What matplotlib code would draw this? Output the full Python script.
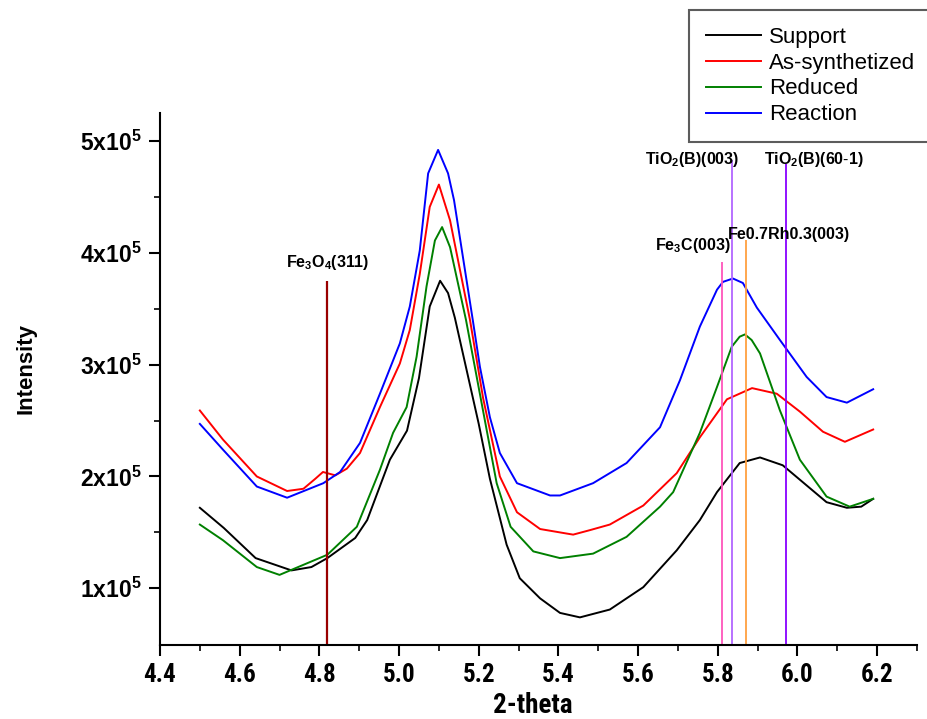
import numpy as np
import matplotlib
matplotlib.use('Agg')
import matplotlib.pyplot as plt
from matplotlib import font_manager
from matplotlib.ticker import MultipleLocator, FixedLocator

# intensities in units of 1e5
x_support = [4.50, 4.56, 4.64, 4.73, 4.78, 4.82, 4.89, 4.92, 4.977, 5.02, 5.05, 5.077, 5.103,
             5.123, 5.14, 5.20, 5.228, 5.27, 5.303, 5.354, 5.404, 5.454, 5.529, 5.613, 5.697,
             5.755, 5.798, 5.855, 5.906, 5.963, 6.023, 6.073, 6.124, 6.16, 6.19]
y_support = [1.72, 1.54, 1.27, 1.16, 1.19, 1.27, 1.45, 1.61, 2.15, 2.41, 2.88, 3.52, 3.75,
             3.64, 3.42, 2.47, 1.98, 1.39, 1.09, 0.91, 0.78, 0.74, 0.81, 1.01, 1.34,
             1.61, 1.86, 2.12, 2.17, 2.10, 1.92, 1.77, 1.72, 1.73, 1.80]

x_synth = [4.50, 4.558, 4.643, 4.719, 4.76, 4.79, 4.809, 4.84, 4.869, 4.902, 4.952, 5.002,
           5.027, 5.052, 5.077, 5.10, 5.128, 5.178, 5.211, 5.253, 5.296, 5.354, 5.42, 5.437,
           5.479, 5.529, 5.613, 5.697, 5.755, 5.823, 5.886, 5.948, 6.006, 6.064, 6.119, 6.19]
y_synth = [2.59, 2.33, 2.00, 1.87, 1.89, 1.98, 2.04, 2.01, 2.07, 2.21, 2.62, 3.01,
           3.31, 3.81, 4.41, 4.61, 4.29, 3.40, 2.70, 2.00, 1.68, 1.53, 1.49, 1.48,
           1.52, 1.57, 1.74, 2.03, 2.35, 2.69, 2.79, 2.74, 2.58, 2.40, 2.31, 2.42]

x_reduced = [4.50, 4.558, 4.643, 4.70, 4.82, 4.894, 4.952, 4.985, 5.019, 5.044, 5.069, 5.09,
             5.108, 5.128, 5.168, 5.245, 5.28, 5.337, 5.404, 5.487, 5.571, 5.655, 5.688,
             5.755, 5.798, 5.835, 5.855, 5.868, 5.885, 5.906, 5.956, 6.006, 6.073, 6.131, 6.19]
y_reduced = [1.57, 1.43, 1.19, 1.12, 1.30, 1.55, 2.06, 2.39, 2.62, 3.07, 3.70, 4.11,
             4.23, 4.05, 3.40, 1.94, 1.55, 1.33, 1.27, 1.31, 1.46, 1.73, 1.86,
             2.39, 2.80, 3.16, 3.25, 3.27, 3.22, 3.10, 2.59, 2.15, 1.82, 1.73, 1.80]

x_reaction = [4.50, 4.558, 4.643, 4.719, 4.81, 4.852, 4.902, 4.952, 5.002, 5.027, 5.052, 5.073,
              5.098, 5.123, 5.138, 5.185, 5.203, 5.228, 5.253, 5.296, 5.379, 5.404, 5.487,
              5.571, 5.655, 5.705, 5.755, 5.798, 5.813, 5.838, 5.863, 5.898, 5.956, 6.023,
              6.073, 6.124, 6.19]
y_reaction = [2.47, 2.24, 1.91, 1.81, 1.94, 2.04, 2.30, 2.74, 3.19, 3.52, 4.02, 4.71,
              4.92, 4.71, 4.47, 3.40, 2.98, 2.53, 2.21, 1.94, 1.83, 1.83, 1.94,
              2.12, 2.44, 2.86, 3.34, 3.67, 3.74, 3.77, 3.73, 3.51, 3.22, 2.89,
              2.71, 2.66, 2.78]

series_names = ['Support', 'As-synthetized', 'Reduced', 'Reaction']
series_colors = ['black', '#FF0000', '#008000', '#0000FF']

# reference peaks: position, top of marker (1e5), colour
ref_pos = [4.82, 5.81, 5.835, 5.87, 5.97]
ref_top = [3.75, 3.92, 4.83, 4.11, 4.79]
ref_colors = ['#990000', '#FF55BB', '#B266FF', '#FFA040', '#8800FF']

# narrow font for the x axis if one is installed
names = {f.name for f in font_manager.fontManager.ttflist}
narrow = None
for cand in ['Liberation Sans Narrow', 'Arial Narrow', 'Roboto Condensed', 'Open Sans Condensed']:
    if cand in names:
        narrow = cand
        break
if narrow is None:
    for n in sorted(names):
        if 'Narrow' in n or 'Condensed' in n:
            narrow = n
            break

plt.rcParams['font.family'] = ['Liberation Sans', 'DejaVu Sans']
plt.rcParams['mathtext.fontset'] = 'custom'
plt.rcParams['mathtext.rm'] = 'Liberation Sans'
plt.rcParams['mathtext.bf'] = 'Liberation Sans:bold'
plt.rcParams['mathtext.it'] = 'Liberation Sans:italic'

fig = plt.figure(figsize=(9.27, 7.19), dpi=100)
ax = fig.add_axes([160/927, 74/719, 757/927, 532/719])

xs = [x_support, x_synth, x_reduced, x_reaction]
ys = [y_support, y_synth, y_reduced, y_reaction]
for x, y, name, c in zip(xs, ys, series_names, series_colors):
    ax.plot(x, np.array(y)*1e5, color=c, lw=1.4, label=name)

for p, t, c in zip(ref_pos, ref_top, ref_colors):
    ax.vlines(p, 0, t*1e5, color=c, lw=1.6 if c == '#990000' else 1.3)

fs_ann = 11.5
ax.text(4.82, 3.83e5, r'$\mathbf{Fe_3O_4(311)}$', ha='center', va='bottom', fontsize=fs_ann)
ax.text(5.735, 4.75e5, r'$\mathbf{TiO_2(B)(003)}$', ha='center', va='bottom', fontsize=fs_ann)
ax.text(6.04, 4.75e5, r'$\mathbf{TiO_2(B)(60\text{-}1)}$', ha='center', va='bottom',
        fontsize=fs_ann)
ax.text(5.978, 4.12e5, 'Fe0.7Rh0.3(003)', ha='center', va='baseline', fontsize=fs_ann,
        fontweight='bold')
ax.text(5.738, 3.98e5, r'$\mathbf{Fe_3C(003)}$', ha='center', va='bottom', fontsize=fs_ann)

ax.set_xlim(4.4, 6.3)
ax.set_ylim(0.493e5, 5.25e5)

ax.spines['top'].set_visible(False)
ax.spines['right'].set_visible(False)
ax.spines['left'].set_linewidth(1.5)
ax.spines['bottom'].set_linewidth(1.5)

xfam = narrow if narrow else 'Liberation Sans'
xfs = 18 if narrow else 15.5
xlfs = 19.5 if narrow else 18

ax.xaxis.set_minor_locator(MultipleLocator(0.1))
ax.yaxis.set_major_locator(FixedLocator([1e5, 2e5, 3e5, 4e5, 5e5]))
ax.yaxis.set_minor_locator(FixedLocator([1.5e5, 2.5e5, 3.5e5, 4.5e5]))
ax.set_yticklabels([r'$\mathbf{%dx10^5}$' % i for i in range(1, 6)], fontsize=16.5)
ax.set_xticks(np.arange(4.4, 6.21, 0.2))
ax.set_xticklabels(['%.1f' % v for v in np.arange(4.4, 6.21, 0.2)], fontsize=xfs,
                   fontweight='bold', family=xfam)
ax.tick_params(which='major', direction='out', length=8, width=1.5)
ax.tick_params(which='minor', direction='out', length=4.5, width=1.2)
ax.tick_params(axis='y', pad=5)
ax.tick_params(axis='x', pad=5)

ax.set_xlabel('2-theta', fontsize=xlfs, fontweight='bold', family=xfam)
ax.xaxis.set_label_coords(0.493, -0.088)
ax.set_ylabel('Intensity', fontsize=16, fontweight='bold')
ax.yaxis.set_label_coords(-0.163, 0.519)

leg = ax.legend(loc='upper left', bbox_to_anchor=(689/927, 1 - 10/719),
                bbox_transform=fig.transFigure, fontsize=16, frameon=True, fancybox=False,
                borderaxespad=0, handlelength=2.5, handletextpad=0.35, labelspacing=0.22,
                borderpad=0.75)
leg.get_frame().set_edgecolor('#333333')
leg.get_frame().set_linewidth(1.5)

fig.savefig('out.png', dpi=100)
